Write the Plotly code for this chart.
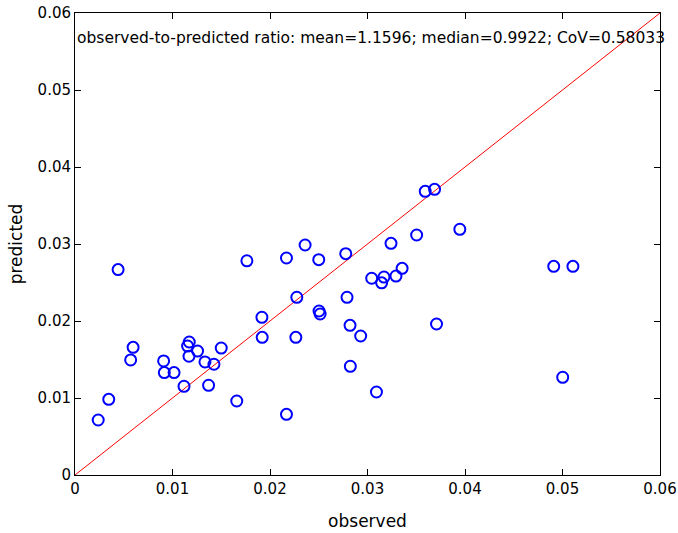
import plotly.graph_objects as go

# observed vs. predicted values
observed = [
    0.00238, 0.00346, 0.00442, 0.00571, 0.00596, 0.00909, 0.00916, 0.01016,
    0.01118, 0.01172, 0.01155, 0.01169, 0.01257, 0.01333, 0.01425, 0.01370,
    0.01500, 0.01659, 0.01763, 0.01917, 0.01920, 0.02169, 0.02169, 0.02265,
    0.02275, 0.02360, 0.02500, 0.02503, 0.02514, 0.02777, 0.02790, 0.02821,
    0.02824, 0.02930, 0.03043, 0.03092, 0.03145, 0.03169, 0.03241, 0.03292,
    0.03355, 0.03504, 0.03592, 0.03688, 0.03708, 0.03947, 0.04910, 0.05002,
    0.05107,
]
predicted = [
    0.00714, 0.00983, 0.02668, 0.01494, 0.01658, 0.01481, 0.01330, 0.01330,
    0.01152, 0.01727, 0.01675, 0.01542, 0.01610, 0.01468, 0.01438, 0.01165,
    0.01649, 0.00961, 0.02782, 0.02048, 0.01788, 0.02818, 0.00788, 0.01788,
    0.02308, 0.02987, 0.02797, 0.02130, 0.02091, 0.02875, 0.02308, 0.01944,
    0.01412, 0.01805, 0.02555, 0.01078, 0.02496, 0.02571, 0.03009, 0.02584,
    0.02684, 0.03117, 0.03684, 0.03710, 0.01961, 0.03191, 0.02710, 0.01269,
    0.02710,
]

ticks = [0, 0.01, 0.02, 0.03, 0.04, 0.05, 0.06]
tick_labels = ["0", "0.01", "0.02", "0.03", "0.04", "0.05", "0.06"]
identity = [0, 0.06]
summary = "observed-to-predicted ratio: mean=1.1596; median=0.9922; CoV=0.58033"

FONT = "DejaVu Sans, Verdana, sans-serif"

fig = go.Figure()
fig.add_trace(go.Scatter(
    x=identity, y=identity, mode="lines",
    line=dict(color="#ff0000", width=1), hoverinfo="skip",
))
fig.add_trace(go.Scatter(
    x=observed, y=predicted, mode="markers",
    marker=dict(symbol="circle-open", size=11, color="#0000ff",
                line=dict(width=2, color="#0000ff")),
))

axis_common = dict(
    range=[0, 0.06], tickvals=ticks, ticktext=tick_labels,
    ticks="inside", ticklen=6, tickwidth=1, tickcolor="black",
    showline=True, linecolor="black", linewidth=1, mirror="ticks",
    showgrid=False, zeroline=False, automargin=False,
    tickfont=dict(family=FONT, size=15, color="black"),
)

fig.update_layout(
    template="none",
    width=678, height=533,
    margin=dict(l=75, r=18, t=13, b=58),
    paper_bgcolor="white", plot_bgcolor="white",
    showlegend=False,
    font=dict(family=FONT, color="black"),
    xaxis=dict(**axis_common,
               title=dict(text="observed", font=dict(family=FONT, size=17), standoff=18)),
    yaxis=dict(**axis_common,
               title=dict(text="predicted", font=dict(family=FONT, size=17), standoff=10)),
    annotations=[dict(
        x=0.0, y=0.0568, xref="x", yref="y", text=summary,
        showarrow=False, xanchor="left", yanchor="middle",
        font=dict(family=FONT, size=15.5, color="black"),
    )],
)

fig.write_html("out.html")
